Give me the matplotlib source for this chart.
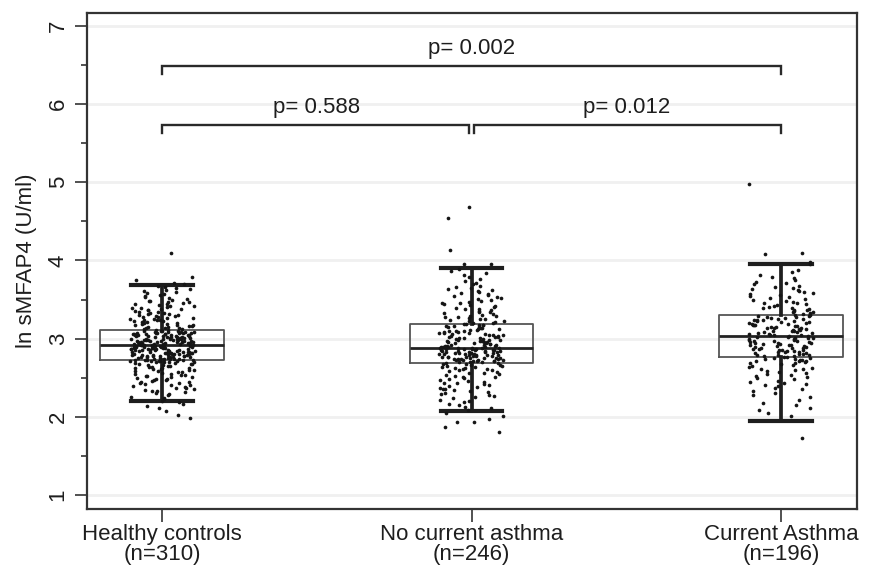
import matplotlib
matplotlib.use("Agg")
import matplotlib.pyplot as plt
import numpy as np

plt.rcParams['font.family'] = ['Liberation Sans', 'DejaVu Sans']

# ---------------- data ----------------
groups = ["Healthy controls", "No current asthma", "Current Asthma"]
group_n = [310, 246, 196]

# point counts per 0.1-wide bin, bins starting at 2.0, 2.1, ..., 3.9
bin_starts = [2.0, 2.1, 2.2, 2.3, 2.4, 2.5, 2.6, 2.7, 2.8, 2.9,
              3.0, 3.1, 3.2, 3.3, 3.4, 3.5, 3.6, 3.7, 3.8, 3.9]
healthy_counts = [2, 4, 6, 10, 13, 14, 18, 38, 42, 42, 40, 18, 17, 14, 12, 8, 7, 3, 0, 0]
nocurrent_counts = [3, 5, 7, 9, 9, 10, 16, 30, 33, 22, 20, 18, 12, 10, 9, 8, 7, 4, 4, 1]
current_counts = [3, 3, 3, 5, 7, 8, 9, 17, 19, 19, 18, 18, 17, 12, 9, 8, 7, 5, 3, 1]

# individual points outside the 2.0-4.0 band
healthy_extra = [1.99, 4.10]
nocurrent_extra = [1.80, 1.87, 1.93, 1.93, 1.97, 3.96, 4.13, 4.54, 4.69]
current_extra = [1.73, 3.98, 4.08, 4.09, 4.98]

# box-plot summary values
box_q1 = [2.73, 2.69, 2.76]
box_med = [2.92, 2.88, 3.03]
box_q3 = [3.11, 3.19, 3.30]
whisk_lo = [2.20, 2.07, 1.95]
whisk_hi = [3.69, 3.90, 3.95]

# pairwise comparisons
comp_pairs = [(1, 2), (2, 3), (1, 3)]
comp_p = ["0.588", "0.012", "0.002"]
comp_level = [5.73, 5.73, 6.49]

# ---------------- figure ----------------
fig = plt.figure(figsize=(8.7, 5.65), dpi=100)
ax = fig.add_axes([0.0997, 0.0991, 0.8850, 0.8774])

positions = [1, 2, 3]
stats = []
for i in range(3):
    stats.append(dict(med=box_med[i], q1=box_q1[i], q3=box_q3[i],
                      whislo=whisk_lo[i], whishi=whisk_hi[i], fliers=[]))
ax.bxp(stats, positions=positions, widths=0.4, capwidths=0.2,
       showfliers=False, manage_ticks=False,
       boxprops=dict(color='#555555', lw=1.3),
       medianprops=dict(color='#222222', lw=2.0),
       whiskerprops=dict(color='#1e1e1e', lw=2.7),
       capprops=dict(color='#1e1e1e', lw=3.0),
       zorder=2)


def spread(i):
    """deterministic horizontal jitter in [-0.5, 0.5) (hash of the index)"""
    v = np.sin(np.asarray(i, dtype=float) * 12.9898 + 78.233) * 43758.5453
    return v - np.floor(v) - 0.5


all_counts = [healthy_counts, nocurrent_counts, current_counts]
all_extra = [healthy_extra, nocurrent_extra, current_extra]
for gi, (counts, extra) in enumerate(zip(all_counts, all_extra)):
    ys = []
    for lo, c in zip(bin_starts, counts):
        for k in range(c):
            ys.append(lo + (k + 0.5) / c * 0.1)
    ys = np.array(ys + list(extra))
    idx = np.arange(len(ys)) + 1000 * gi + 1
    xs = positions[gi] + spread(idx) * 0.21
    ax.scatter(xs, ys, s=7, color='#151515', linewidths=0, zorder=3)

# comparison brackets
gap = 0.008
for (a, b), p, h in zip(comp_pairs, comp_p, comp_level):
    xa, xb = a, b
    if b - a == 1:
        if a == 2:
            xa = a + gap
        if b == 2:
            xb = b - gap
    ax.plot([xa, xa, xb, xb], [h - 0.1, h, h, h - 0.1], color='#2a2a2a',
            lw=1.7, solid_joinstyle='miter', zorder=3)
    ax.text((a + b) / 2, h + 0.09, f"p= {p}", ha='center', va='bottom',
            fontsize=16, color='#1e1e1e')

ax.set_xlim(0.756, 3.245)
ax.set_ylim(0.821, 7.162)

ax.set_xticks(positions)
ax.set_xticklabels([f"{g_}\n(n={n_})" for g_, n_ in zip(groups, group_n)],
                   fontsize=16, linespacing=0.95, color='#1e1e1e')
ax.set_yticks(range(1, 8))
ax.set_yticks(np.arange(1.5, 7.0, 1.0), minor=True)
ax.set_yticklabels([str(v) for v in range(1, 8)], rotation=90, va='center',
                   fontsize=16, color='#1e1e1e')
ax.tick_params(axis='both', which='major', direction='out', length=9,
               width=1.2, color='#333333')
ax.tick_params(axis='x', pad=2)
ax.tick_params(axis='y', pad=4)
ax.tick_params(axis='y', which='minor', direction='out', length=4.5,
               width=1.2, color='#333333')

ax.set_ylabel("ln sMFAP4 (U/ml)", fontsize=16, color='#1e1e1e', labelpad=8)

ax.yaxis.grid(True, which='major', color='#f0f0f0', lw=2)
ax.set_axisbelow(True)
for sp in ax.spines.values():
    sp.set_color('#333333')
    sp.set_linewidth(1.6)

fig.savefig("out.png", dpi=100)
